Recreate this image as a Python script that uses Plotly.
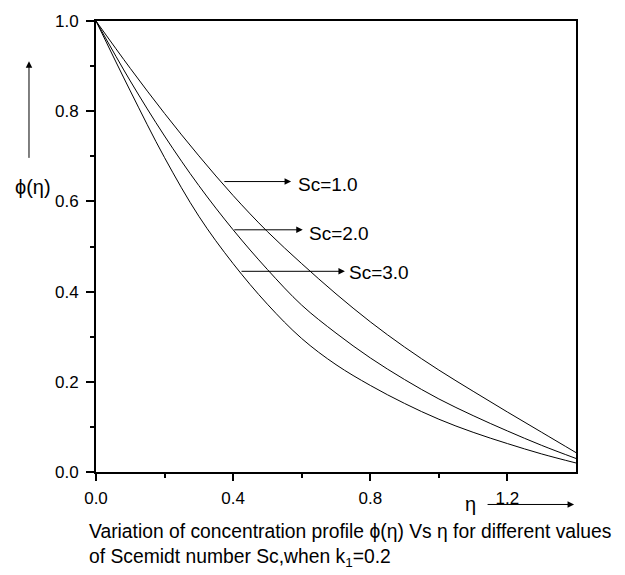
import plotly.graph_objects as go

# ---- data ----
eta = [0.0, 0.1, 0.2, 0.3, 0.4, 0.5, 0.6, 0.7, 0.8, 0.9, 1.0, 1.1, 1.2, 1.3, 1.4]
phi_sc1 = [1.0, 0.895, 0.795, 0.701, 0.613, 0.533, 0.462, 0.395, 0.333, 0.277, 0.226, 0.179, 0.133, 0.088, 0.043]
phi_sc2 = [1.0, 0.867, 0.745, 0.635, 0.537, 0.449, 0.370, 0.308, 0.253, 0.205, 0.162, 0.125, 0.091, 0.059, 0.030]
phi_sc3 = [1.0, 0.845, 0.697, 0.567, 0.462, 0.372, 0.296, 0.238, 0.192, 0.152, 0.117, 0.088, 0.063, 0.040, 0.020]
series_names = ["Sc=1.0", "Sc=2.0", "Sc=3.0"]
x_tickvals = [0.0, 0.4, 0.8, 1.2]
x_ticktext = ["0.0", "0.4", "0.8", "1.2"]
y_tickvals = [0.0, 0.2, 0.4, 0.6, 0.8, 1.0]
y_ticktext = ["0.0", "0.2", "0.4", "0.6", "0.8", "1.0"]

FONT = "Liberation Sans, Arial, sans-serif"

fig = go.Figure()
for name, ys in zip(series_names, [phi_sc1, phi_sc2, phi_sc3]):
    fig.add_trace(go.Scatter(x=eta, y=ys, mode="lines", name=name, hoverinfo="skip",
                             line=dict(color="black", width=1, shape="spline", smoothing=1.0)))

# label arrows (tail on curve, head pointing right) with text
labels = [
    # tail_x, tail_y, head_x, text_x, text_y
    (0.370, 0.644, 0.569, 0.583, 0.638),
    (0.399, 0.537, 0.603, 0.615, 0.528),
    (0.420, 0.445, 0.726, 0.731, 0.443),
]
ann = []
for (tx, ty, hx, lx, ly), name in zip(labels, series_names):
    ann.append(dict(x=hx, y=ty, ax=tx, ay=ty, xref="x", yref="y", axref="x", ayref="y",
                    text="", showarrow=True, arrowhead=2, arrowsize=1.3, arrowwidth=1,
                    arrowcolor="black"))
    ann.append(dict(x=lx, y=ly, xref="x", yref="y", text=name, showarrow=False,
                    xanchor="left", yanchor="middle", font=dict(size=19, color="black", family=FONT)))

# y axis label with up arrow
ann.append(dict(x=-0.1396, y=0.9105, xref="paper", yref="paper", ax=0, ay=98,
                axref="pixel", ayref="pixel", text="", showarrow=True, arrowhead=2,
                arrowsize=1.3, arrowwidth=1, arrowcolor="black"))
ann.append(dict(x=-0.131, y=0.631, xref="paper", yref="paper", text="\u03d5(\u03b7)",
                showarrow=False, xanchor="center", yanchor="middle",
                font=dict(size=20, color="black", family=FONT)))
# x axis label with right arrow
ann.append(dict(x=0.781, y=-0.072, xref="paper", yref="paper", text="\u03b7",
                showarrow=False, xanchor="center", yanchor="middle",
                font=dict(size=20, color="black", family=FONT)))
ann.append(dict(x=0.996, y=-0.072, xref="paper", yref="paper", ax=-88, ay=0,
                text="", showarrow=True, arrowhead=2, arrowsize=1.3, arrowwidth=1,
                arrowcolor="black"))
# caption
ann.append(dict(x=-0.01875, y=-0.133, xref="paper", yref="paper",
                text="Variation of concentration profile \u03d5(\u03b7) Vs \u03b7 for different values",
                showarrow=False, xanchor="left", yanchor="middle",
                font=dict(size=19.3, color="black", family=FONT)))
ann.append(dict(x=-0.01875, y=-0.190, xref="paper", yref="paper",
                text="of Scemidt number Sc,when k<sub>1</sub>=0.2",
                showarrow=False, xanchor="left", yanchor="middle",
                font=dict(size=19.3, color="black", family=FONT)))

fig.update_layout(
    width=625, height=575,
    margin=dict(l=96, r=49, t=14, b=103),
    paper_bgcolor="white", plot_bgcolor="white",
    showlegend=False,
    font=dict(family=FONT, size=17, color="black"),
    annotations=ann,
)
fig.update_xaxes(range=[0, 1.4], tickvals=x_tickvals, ticktext=x_ticktext,
                 showgrid=False, zeroline=False, showline=True, linecolor="black",
                 linewidth=2, mirror=True, ticks="outside", ticklen=7, tickwidth=1.5,
                 tickcolor="black", ticklabelstandoff=3,
                 minor=dict(tickvals=[0.2, 0.6, 1.0], ticks="outside", ticklen=4,
                            tickwidth=1.5, tickcolor="black"),
                 tickfont=dict(size=17, family=FONT, color="black"))
fig.update_yaxes(range=[0, 1.0], tickvals=y_tickvals, ticktext=y_ticktext,
                 showgrid=False, zeroline=False, showline=True, linecolor="black",
                 linewidth=2, mirror=True, ticks="outside", ticklen=8, tickwidth=1.5,
                 tickcolor="black", ticklabelstandoff=4,
                 minor=dict(tickvals=[0.1, 0.3, 0.5, 0.7, 0.9], ticks="outside", ticklen=4,
                            tickwidth=1.5, tickcolor="black"),
                 tickfont=dict(size=17, family=FONT, color="black"))

fig.write_html("out.html", config={"displayModeBar": False},
               post_script="document.body.style.margin='0';document.body.style.overflow='hidden';")
